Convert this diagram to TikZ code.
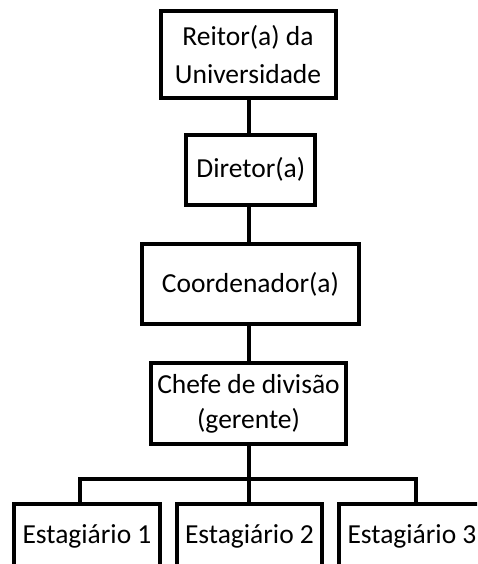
\documentclass[tikz,border=0pt]{standalone}
\usepackage{fontspec}
\setmainfont{Carlito}
\begin{document}
\begin{tikzpicture}[x=1pt,y=-1pt,
  box/.style={draw, line width=4pt, rectangle, inner sep=0pt, align=center,
    font=\fontsize{27.5}{38}\selectfont},
  conn/.style={line width=4pt}]
\useasboundingbox (0,0) rectangle (477,564);
\clip (0,0) rectangle (477,564);
\node[box, minimum width=175pt, minimum height=86.7pt] (reitor) at (248,54.7) {Reitor(a) da\\Universidade};
\node[box, minimum width=129pt, minimum height=70pt] (diretor) at (250.8,169.7) {Diretor(a)};
\node[box, minimum width=217pt, minimum height=80pt] (coord) at (250.5,284) {Coordenador(a)};
\node[box, minimum width=195pt, minimum height=81pt, font=\fontsize{27.5}{35}\selectfont] (chefe) at (248.5,403.5) {Chefe de divisão\\(gerente)};
\node[box, minimum width=146pt, minimum height=64pt] (e1) at (87,536) {Estagiário 1};
\node[box, minimum width=145pt, minimum height=64pt] (e2) at (249.5,536) {Estagiário 2};
\node[box, minimum width=146pt, minimum height=64pt] (e3) at (412,536) {Estagiário 3};
\coordinate (spine) at (248.5,0);
\coordinate (bl) at (80,478.5);
\coordinate (bm) at (248.5,478.5);
\coordinate (br) at (416,478.5);
\draw[conn] (reitor.south -| spine) -- (diretor.north -| spine);
\draw[conn] (diretor.south -| spine) -- (coord.north -| spine);
\draw[conn] (coord.south -| spine) -- (chefe.north -| spine);
\draw[conn] (chefe.south -| spine) -- (bm);
\draw[conn] (e1.north -| bl) -- (bl) -- (br) -- (e3.north -| br);
\draw[conn] (bm) -- (e2.north -| bm);
\end{tikzpicture}
\end{document}
